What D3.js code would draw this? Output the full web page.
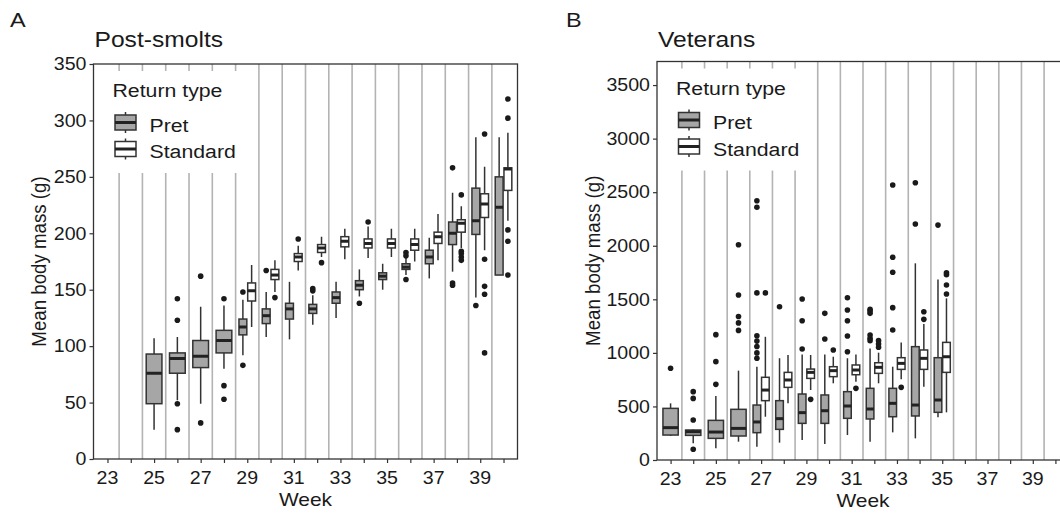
<!DOCTYPE html>
<html><head><meta charset="utf-8">
<script src="https://cdn.jsdelivr.net/npm/d3@7"></script>
<style>body{margin:0;background:#fff} text{font-family:"Liberation Sans",Arial,sans-serif;fill:#1a1a1a}</style>
</head><body><svg id="c" width="1060" height="513"></svg>
<script>
// ---------------- data ----------------
const weeks = [23,24,25,26,27,28,29,30,31,32,33,34,35,36,37,38,39,40];
const weekLabels = ["23","","25","","27","","29","","31","","33","","35","","37","","39",""];
const groups = ["Pret","Standard"];
const postTicks = [0,50,100,150,200,250,300,350];
const vetTicks = [0,500,1000,1500,2000,2500,3000,3500];

// [week, lowerWhisker, q1, median, q3, upperWhisker]
const postPret = [
  [25,26,49,76,93,107],[26,52,76,89,94,108],[27,49,81,91,105,135],[28,80,94,105,114,136],
  [29,92,110,117,124,141],[30,108,120,127,133,148],[31,106,124,133,138,157],[32,119,129,133,137,145],
  [33,125,138,143,148,157],[34,144,150,154,158,168],[35,150,159,162,165,173],[36,163,168,170,173,178],
  [37,160,173,179,185,196],[38,166,190,200,210,236],[39,143,199,211,240,285],[40,163,163,223,250,285]
];
const postStd = [
  [29,117,140,149,156,172],[30,148,159,163,168,176],[31,167,175,179,182,189],[32,179,183,187,190,197],
  [33,177,188,193,197,204],[34,178,187,191,195,206],[35,179,187,191,195,204],[36,175,185,190,195,204],
  [37,176,191,197,201,217],[38,187,201,209,212,224],[39,185,214,226,235,259],[40,211,238,257,258,289]
];
// [week, value]
const postPretOut = [
  [26,142],[26,123],[26,49],[26,26],[27,162],[27,32],[28,142],[28,65],[28,53],[29,148],[29,83],
  [30,167],[32,151],[32,149],[34,138],[36,183],[36,180],[36,159],[38,258],[38,156],[38,154],[39,136]
];
const postStdOut = [
  [30,143],[31,195],[32,174],[34,210],[38,234],[38,184],[38,182],[38,179],[38,176],
  [39,288],[39,177],[39,153],[39,146],[39,94],[40,319],[40,302],[40,203],[40,193],[40,163]
];

const vetPret = [
  [23,224,233,302,482,529],[24,156,230,264,280,285],[25,109,202,261,370,597],[26,171,224,295,473,834],
  [27,124,255,355,513,871],[28,162,286,386,554,950],[29,187,342,442,616,986],[30,149,342,460,607,986],
  [31,233,389,504,638,950],[32,171,383,476,669,1042],[33,258,404,529,669,871],[34,202,411,513,1058,1836],
  [35,398,445,560,955,1686]
];
const vetStd = [
  [27,404,554,653,772,1150],[28,529,678,747,818,980],[29,653,762,818,849,980],[30,716,778,834,871,964],
  [31,731,796,840,887,986],[32,716,809,865,908,1002],[33,753,846,902,955,1098],[34,684,846,949,1027,1269],
  [35,445,818,964,1098,1509]
];
const vetPretOut = [
  [23,856],[24,638],[24,575],[24,373],[24,100],[25,706],[25,918],[25,1170],
  [26,2010],[26,1540],[26,1340],[26,1280],[26,1210],
  [27,2420],[27,2360],[27,1560],[27,1160],[27,1110],[27,1060],[27,1000],[27,950],
  [28,1430],[29,1503],[29,1300],[29,1036],[30,1369],[30,1129],
  [31,1515],[31,1400],[31,1300],[31,1157],[31,1011],
  [32,1406],[32,1390],[32,1369],[32,1167],[32,1136],[32,1114],
  [33,2567],[33,1892],[33,1752],[33,1422],[33,1213],[34,2588],[34,2203],[35,2193]
];
const vetStdOut = [
  [27,1560],[29,566],[30,1027],[31,669],[32,1114],[32,1083],[32,1052],[33,678],[34,1384],[34,1313],
  [35,1748],[35,1730],[35,1633],[35,1549]
];

// ---------------- drawing ----------------
const SX = 1.12;
const svg = d3.select("#c");
const fills = {Pret:"#a6a6a6", Standard:"#ffffff"};
const ink = "#333333";

function txt(g, x, y, s, size, anchor, rot) {
  return g.append("text")
    .attr("transform", `translate(${x},${y}) scale(${SX},1)` + (rot ? ` rotate(${rot})` : ""))
    .attr("font-size", size).attr("text-anchor", anchor || "start").text(s);
}

function panel(cfg) {
  const g = svg.append("g");
  const x = d3.scalePoint().domain(weeks).range([cfg.left, cfg.right]).padding(0.6);
  const y = d3.scaleLinear().domain(cfg.ydom).range([cfg.bottom, cfg.top]);
  const step = x.step();
  const clipId = "clip" + cfg.tag;
  svg.append("clipPath").attr("id", clipId).append("rect")
    .attr("x", cfg.left).attr("y", cfg.top).attr("width", cfg.right - cfg.left).attr("height", cfg.bottom - cfg.top);
  const pg = g.append("g").attr("clip-path", `url(#${clipId})`);

  // separators between weeks
  const seps = weeks.slice(0, -1);
  pg.selectAll("line.sep").data(seps).join("line")
    .attr("x1", d => x(d) + step / 2).attr("x2", d => x(d) + step / 2)
    .attr("y1", cfg.top).attr("y2", cfg.bottom)
    .attr("stroke", "#b3b3b3").attr("stroke-width", 1.6);

  // legend background
  pg.append("rect").attr("x", cfg.left).attr("y", cfg.top + 7)
    .attr("width", cfg.legW).attr("height", 102).attr("fill", "#fff");

  // boxes
  const both = new Set(cfg.data.Standard.map(d => d[0]).filter(w => cfg.data.Pret.some(p => p[0] === w)));
  function pos(week, grp) {
    if (both.has(week)) {
      return {cx: x(week) + (grp === "Pret" ? -0.1875 : 0.1875) * step, w: 0.3375 * step};
    }
    return {cx: x(week), w: 0.675 * step};
  }
  groups.forEach(grp => {
    const rows = cfg.data[grp];
    const bg = pg.append("g");
    const b = bg.selectAll("g").data(rows).join("g");
    b.append("line").attr("x1", d => pos(d[0], grp).cx).attr("x2", d => pos(d[0], grp).cx)
      .attr("y1", d => y(d[4])).attr("y2", d => y(d[5])).attr("stroke", ink).attr("stroke-width", 1.5);
    b.append("line").attr("x1", d => pos(d[0], grp).cx).attr("x2", d => pos(d[0], grp).cx)
      .attr("y1", d => y(d[1])).attr("y2", d => y(d[2])).attr("stroke", ink).attr("stroke-width", 1.5);
    b.append("rect").attr("x", d => pos(d[0], grp).cx - pos(d[0], grp).w / 2)
      .attr("width", d => pos(d[0], grp).w)
      .attr("y", d => y(d[4])).attr("height", d => Math.max(0.5, y(d[2]) - y(d[4])))
      .attr("fill", fills[grp]).attr("stroke", ink).attr("stroke-width", 1.5);
    b.append("line").attr("x1", d => pos(d[0], grp).cx - pos(d[0], grp).w / 2)
      .attr("x2", d => pos(d[0], grp).cx + pos(d[0], grp).w / 2)
      .attr("y1", d => y(d[3])).attr("y2", d => y(d[3])).attr("stroke", "#222").attr("stroke-width", 3);
    bg.selectAll("circle").data(cfg.out[grp]).join("circle")
      .attr("cx", d => pos(d[0], grp).cx).attr("cy", d => y(d[1])).attr("r", 2.8).attr("fill", "#1a1a1a");
  });

  // legend
  const lx = cfg.left + 19, ly = cfg.top;
  txt(g, lx, ly + 33, "Return type", 19);
  groups.forEach((grp, i) => {
    const cy = ly + 58.5 + i * 26.5;
    const kx = lx + 13;
    g.append("line").attr("x1", kx).attr("x2", kx).attr("y1", cy - 10.5).attr("y2", cy + 10.5)
      .attr("stroke", ink).attr("stroke-width", 1.5);
    g.append("rect").attr("x", kx - 10.5).attr("y", cy - 7.5).attr("width", 21).attr("height", 15)
      .attr("fill", fills[grp]).attr("stroke", ink).attr("stroke-width", 1.5);
    g.append("line").attr("x1", kx - 10.5).attr("x2", kx + 10.5).attr("y1", cy).attr("y2", cy)
      .attr("stroke", "#222").attr("stroke-width", 3);
    txt(g, lx + 37, cy + 9, grp, 19);
  });

  // border
  g.append("rect").attr("x", cfg.left).attr("y", cfg.top).attr("width", cfg.right - cfg.left)
    .attr("height", cfg.bottom - cfg.top).attr("fill", "none").attr("stroke", ink).attr("stroke-width", 1.3);

  // axes
  const ya = g.append("g").attr("transform", `translate(${cfg.left},0)`)
    .call(d3.axisLeft(y).tickValues(cfg.ticks).tickSize(4).tickFormat(() => ""));
  ya.select(".domain").remove();
  ya.selectAll("line").attr("stroke", ink).attr("stroke-width", 1.2);
  cfg.ticks.forEach(t => txt(g, cfg.left - 7, y(t) + 6.3, String(t), 17.5, "end"));

  const xa = g.append("g").attr("transform", `translate(0,${cfg.bottom})`)
    .call(d3.axisBottom(x).tickSize(4).tickFormat(() => ""));
  xa.select(".domain").remove();
  xa.selectAll("line").attr("stroke", ink).attr("stroke-width", 1.2);
  weeks.forEach((w, i) => { if (weekLabels[i]) txt(g, x(w), cfg.bottom + 25, weekLabels[i], 17.5, "middle"); });

  txt(g, cfg.weekX, cfg.bottom + 47, "Week", 18.7, "middle");
  txt(g, cfg.yTitleX, (cfg.top + cfg.bottom) / 2, "Mean body mass (g)", 18.7, "middle", -90);
  txt(g, cfg.left + 1, 47, cfg.title, 22);
  txt(g, cfg.tagX, 27, cfg.tag, 21);
}

panel({tag:"A", tagX:10, title:"Post-smolts", left:93.5, right:517.5, top:64, bottom:459,
  ydom:[0,350], ticks:postTicks, legW:156, yTitleX:45.5, weekX:305.5,
  data:{Pret:postPret, Standard:postStd}, out:{Pret:postPretOut, Standard:postStdOut}});
panel({tag:"B", tagX:566, title:"Veterans", left:657, right:1069, top:61.5, bottom:460,
  ydom:[0,3720], ticks:vetTicks, legW:152, yTitleX:600, weekX:863,
  data:{Pret:vetPret, Standard:vetStd}, out:{Pret:vetPretOut, Standard:vetStdOut}});
</script></body></html>
